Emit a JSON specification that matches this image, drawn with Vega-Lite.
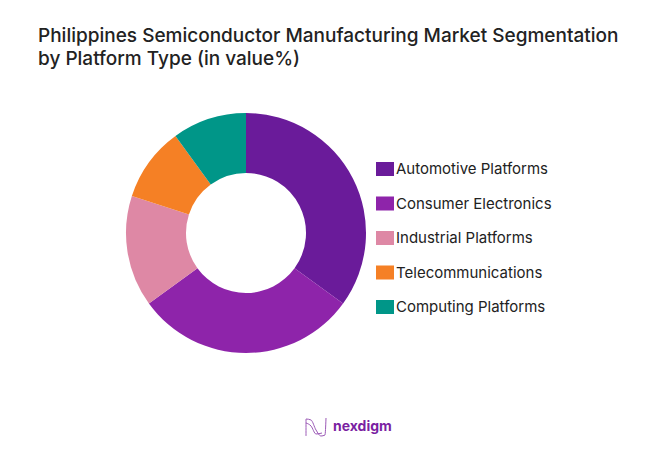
{
  "$schema": "https://vega.github.io/schema/vega-lite/v6.json",
  "description": "Philippines semiconductor manufacturing market segmentation donut",
  "background": "white",
  "width": 667,
  "height": 401,
  "padding": {"top": 60, "left": 0, "right": 0, "bottom": 0},
  "autosize": {"type": "none"},
  "title": {
    "text": ["Philippines Semiconductor Manufacturing Market Segmentation", "by Platform Type (in value%)"],
    "anchor": "start",
    "frame": "group",
    "dx": 38,
    "offset": -9,
    "font": "Inter",
    "fontSize": 19,
    "fontWeight": 500,
    "color": "#222222",
    "lineHeight": 23
  },
  "layer": [
    {
      "data": {
        "values": [
          {"platform": "Automotive Platforms", "share": 35, "rank": 1},
          {"platform": "Consumer Electronics", "share": 30, "rank": 2},
          {"platform": "Industrial Platforms", "share": 15, "rank": 3},
          {"platform": "Telecommunications", "share": 10, "rank": 4},
          {"platform": "Computing Platforms", "share": 10, "rank": 5}
        ]
      },
      "mark": {"type": "arc", "outerRadius": 120, "innerRadius": 60},
      "encoding": {
        "x": {"value": 246},
        "y": {"value": 173},
        "theta": {"field": "share", "type": "quantitative", "stack": true},
        "order": {"field": "rank", "type": "ordinal"},
        "color": {
          "field": "platform",
          "type": "nominal",
          "scale": {
            "domain": ["Automotive Platforms", "Consumer Electronics", "Industrial Platforms", "Telecommunications", "Computing Platforms"],
            "range": ["#6A1B9A", "#8E24AA", "#DE88A5", "#F58025", "#009688"]
          },
          "legend": {
            "title": null,
            "orient": "none",
            "legendX": 376,
            "legendY": 100,
            "symbolType": "M-1,-0.78H1V0.78H-1Z",
            "symbolSize": 324,
            "symbolStrokeWidth": 0,
            "symbolOpacity": 1,
            "rowPadding": 16.5,
            "labelFont": "Inter",
            "labelFontSize": 15,
            "labelColor": "#222222",
            "labelOffset": 2,
            "clipHeight": 18
          }
        }
      }
    },
    {
      "data": {"values": [{"brand": "nexdigm"}]},
      "mark": {"type": "text", "align": "left", "baseline": "middle", "font": "Inter", "fontSize": 14, "fontWeight": 700, "color": "#7B1FA2"},
      "encoding": {
        "x": {"value": 333},
        "y": {"value": 367},
        "text": {"field": "brand"}
      }
    },
    {
      "data": {
        "values": [
          {"lx": 306, "ly": 436, "path": "a", "step": 1},
          {"lx": 306, "ly": 419, "path": "a", "step": 2},
          {"lx": 311, "ly": 420, "path": "a", "step": 3},
          {"lx": 316, "ly": 430, "path": "a", "step": 4},
          {"lx": 321, "ly": 436, "path": "a", "step": 5},
          {"lx": 325, "ly": 435, "path": "a", "step": 6},
          {"lx": 326, "ly": 418, "path": "a", "step": 7},
          {"lx": 306, "ly": 423, "path": "b", "step": 1},
          {"lx": 311, "ly": 426, "path": "b", "step": 2},
          {"lx": 316, "ly": 434, "path": "b", "step": 3},
          {"lx": 322, "ly": 433, "path": "b", "step": 4}
        ]
      },
      "mark": {"type": "line", "interpolate": "monotone", "strokeWidth": 1, "color": "#9B59B6"},
      "encoding": {
        "x": {"field": "lx", "type": "quantitative", "axis": null, "scale": {"domain": [0, 667], "range": [0, 667]}},
        "y": {"field": "ly", "type": "quantitative", "axis": null, "scale": {"domain": [60, 461], "range": [0, 401]}},
        "detail": {"field": "path"},
        "order": {"field": "step", "type": "ordinal"}
      }
    }
  ],
  "resolve": {"scale": {"color": "independent"}},
  "config": {"view": {"stroke": null}}
}
